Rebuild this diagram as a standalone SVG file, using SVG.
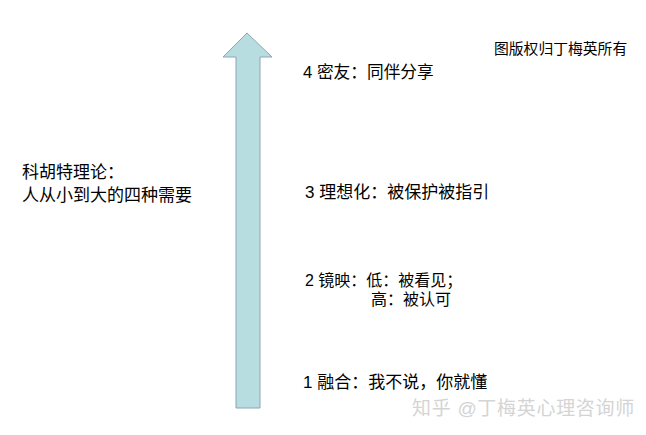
<svg xmlns="http://www.w3.org/2000/svg" width="646" height="435" viewBox="0 0 646 435">
<style>
text{font-family:"Liberation Sans","Noto Sans CJK SC",sans-serif;fill:#000}
.t{font-size:17px}
.l{font-size:17px}
.w{font-size:19px;fill:#d4d4d4;letter-spacing:0.7px}
</style>
<rect width="646" height="435" fill="#fff"/>
<g id="connectors">
<path id="arrow" d="M236,408 L236,57 L223,57 L247,33 L272,57 L260,57 L260,408 Z" fill="#b7dde1" stroke="#8ba6b3" stroke-width="1"/>
</g>
<g id="copyright"><text x="494" y="54" style="font-size:14.8px">图版权归丁梅英所有</text></g>
<g id="title"><text class="l" x="22" y="178">科胡特理论：</text><text class="l" x="22" y="201">人从小到大的四种需要</text></g>
<g id="n4"><text x="303" y="78" style="font-size:16.7px">4 密友：同伴分享</text></g>
<g id="n3"><text class="t" x="305" y="198">3 理想化：被保护被指引</text></g>
<g id="n2"><text x="305" y="286" style="font-size:16px">2 镜映：低：被看见；</text><text x="371" y="305" style="font-size:16px">高：被认可</text></g>
<g id="n1"><text class="t" x="303" y="388">1 融合：我不说，你就懂</text></g>
<g id="watermark"><text class="w" x="412" y="415">知乎 @丁梅英心理咨询师</text></g>
</svg>
